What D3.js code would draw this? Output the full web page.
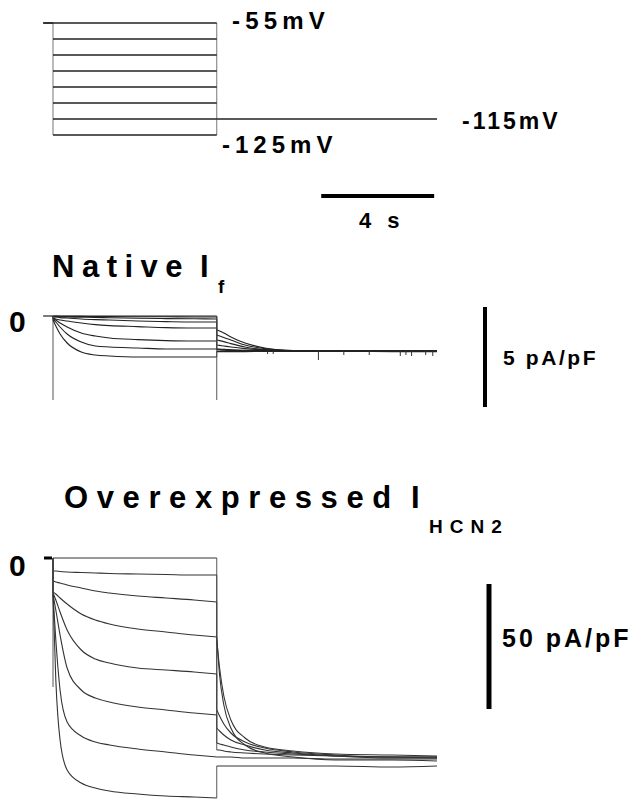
<!DOCTYPE html>
<html><head><meta charset="utf-8">
<script src="https://cdn.jsdelivr.net/npm/d3@7"></script>
<style>
body{margin:0;background:#fff}
text{font-family:"Liberation Sans",Arial,Helvetica,sans-serif;font-weight:bold;fill:#000}
</style>
</head><body>
<svg id="c" width="639" height="800"></svg>
<script>
// ---------------- DATA ----------------
const stepVoltages = [-55, -65, -75, -85, -95, -105, -115, -125]; // mV
const holdVoltage = -55;
const tailVoltage = -115;
const stepStart = 0, stepEnd = 5.8, protoStart = -0.35, protoEnd = 13.6; // s
const stepTimes = [0, 0.1, 0.25, 0.5, 1, 1.5, 2, 3, 4, 5, 5.8];          // s
const tailTimes = [5.8, 5.9, 6.05, 6.3, 6.8, 7.5, 8.5, 10, 12, 13.6];     // s

// Native If (pA/pF), one row per step voltage
const nativeStep = [
  [0, 0, 0, 0, 0, 0, 0, 0, 0, 0, 0],
  [0, 0, -0.01, -0.02, -0.02, -0.03, -0.03, -0.04, -0.04, -0.05, -0.05],
  [-0.03, -0.03, -0.04, -0.05, -0.06, -0.07, -0.09, -0.11, -0.13, -0.14, -0.15],
  [-0.05, -0.05, -0.08, -0.1, -0.15, -0.18, -0.2, -0.25, -0.28, -0.3, -0.3],
  [-0.1, -0.15, -0.2, -0.25, -0.35, -0.43, -0.48, -0.53, -0.58, -0.6, -0.6],
  [-0.1, -0.2, -0.35, -0.55, -0.85, -1.0, -1.1, -1.18, -1.23, -1.25, -1.25],
  [-0.15, -0.3, -0.55, -0.9, -1.3, -1.5, -1.55, -1.6, -1.65, -1.65, -1.65],
  [-0.2, -0.5, -0.9, -1.35, -1.8, -1.95, -2.0, -2.05, -2.05, -2.05, -2.05]
];
const nativeTail = [
  [-0.7, -0.75, -0.85, -1.05, -1.35, -1.6, -1.73, -1.75, -1.75, -1.75],
  [-0.95, -1.0, -1.08, -1.2, -1.45, -1.63, -1.73, -1.75, -1.75, -1.75],
  [-1.2, -1.23, -1.28, -1.38, -1.55, -1.68, -1.74, -1.75, -1.75, -1.75],
  [-1.45, -1.47, -1.5, -1.55, -1.63, -1.7, -1.74, -1.75, -1.75, -1.75],
  [-1.65, -1.66, -1.67, -1.69, -1.72, -1.74, -1.75, -1.75, -1.75, -1.75],
  [-1.7, -1.7, -1.71, -1.72, -1.73, -1.74, -1.75, -1.75, -1.75, -1.75],
  [-1.65, -1.67, -1.69, -1.71, -1.73, -1.74, -1.75, -1.75, -1.76, -1.76],
  [-1.78, -1.78, -1.78, -1.78, -1.78, -1.77, -1.77, -1.77, -1.78, -1.78]
];
const nativeTransient = -4.2;
const nativeSpikeTimes = [7.6, 7.8, 9.4, 10.3, 11.2, 12.3, 12.5, 12.7, 13.2, 13.45];
const nativeSpikeDepth = [0.15, 0.15, 0.45, 0.2, 0.2, 0.25, 0.2, 0.25, 0.2, 0.25];

// Overexpressed IHCN2 (pA/pF)
const hcnStep = [
  [0, 0, 0, 0, 0, 0, 0, 0, 0, 0, 0],
  [-5.2, -5.2, -5.4, -5.6, -5.8, -6, -6.2, -6.4, -6.6, -6.8, -6.8],
  [-9.2, -9.6, -10, -10.8, -12, -13.2, -14, -15.2, -16, -16.8, -17.6],
  [-13.6, -14.4, -16, -18.4, -22.4, -24.8, -26.4, -28.4, -29.6, -30.8, -31.6],
  [-14, -16.8, -21.6, -28.8, -36.8, -40.4, -42, -44, -44.8, -45.6, -46.4],
  [-14.4, -20.8, -30.8, -44, -52.8, -56, -57.6, -59.6, -60.8, -62, -62.8],
  [-14.8, -32.8, -52.8, -65.6, -71.2, -73.6, -74.8, -76.4, -77.6, -78.8, -79.6],
  [-14.8, -48.8, -72.8, -84.8, -90, -92, -93.2, -94.4, -95.2, -95.6, -96]
];
const hcnTail = [
  [-31.6, -46.8, -58.8, -68, -74.8, -78, -79.6, -80.8, -80.8, -81.2],
  [-32.8, -44, -55.2, -64.8, -72, -75.6, -77.2, -78.4, -78.8, -79.2],
  [-60.8, -63.2, -66.4, -70, -73.6, -76, -77.6, -78.8, -79.6, -79.6],
  [-68, -69.2, -70.8, -72.8, -74.8, -76.8, -78, -79.2, -80, -80],
  [-74, -74.4, -74.8, -75.6, -76.8, -77.6, -78.4, -79.2, -79.6, -79.6],
  [-76.8, -76.8, -77.2, -77.6, -78, -78.4, -78.8, -79.2, -79.6, -80],
  [-79.6, -79.6, -79.6, -79.6, -80, -80, -80, -80.4, -80.4, -80.4],
  [-83.2, -83.2, -83.2, -83.2, -83.2, -83.2, -83.2, -83.2, -83.6, -83.2]
];
const hcnTransient = -51.6;

// scale bars
const timeBarStart = 9.5, timeBarLen = 4;      // s
const nativeBarTop = 0.45, nativeBarLen = 5;   // pA/pF
const hcnBarTop = -10.4, hcnBarLen = 50;       // pA/pF

// ---------------- DRAW ----------------
const svg = d3.select("#c");
svg.append("rect").attr("width",639).attr("height",800).attr("fill","#fff");

const x = d3.scaleLinear().domain([0, protoEnd]).range([53, 437]);
const yV = d3.scaleLinear().domain([-55, -125]).range([23, 135]);
const yN = d3.scaleLinear().domain([0, -5]).range([316, 416]);
const yH = d3.scaleLinear().domain([0, -50]).range([558, 683]);

const seg = (g, x1, y1, x2, y2, w, c) => g.append("line")
  .attr("x1",x1).attr("y1",y1).attr("x2",x2).attr("y2",y2)
  .attr("stroke",c||"#111").attr("stroke-width",w||1);

// voltage protocol
const gP = svg.append("g");
seg(gP, x(stepStart), yV(holdVoltage), x(stepStart), yV(d3.min(stepVoltages)), 1, "#777");
seg(gP, x(stepEnd), yV(holdVoltage), x(stepEnd), yV(d3.min(stepVoltages)), 1, "#777");
seg(gP, x(protoStart), yV(holdVoltage), x(stepStart), yV(holdVoltage), 1.7);
stepVoltages.forEach(v => seg(gP, x(stepStart), yV(v), x(stepEnd), yV(v), 1.7, "#222"));
seg(gP, x(stepEnd), yV(tailVoltage), x(protoEnd), yV(tailVoltage), 1.7, "#222");

const lbl = (t, px, py, size, ls, anchor) => svg.append("text").text(t)
  .attr("x",px).attr("y",py).attr("font-size",size)
  .attr("letter-spacing",ls||0).attr("text-anchor",anchor||"start");

lbl("-55mV", 232, 29, 24, 5.2);
lbl("-125mV", 222, 153, 24, 5);
lbl("-115mV", 462, 129, 23, 3);

// time scale bar
seg(svg, x(timeBarStart), 196, x(timeBarStart + timeBarLen), 196, 4, "#000");
lbl("4 s", 359, 228, 22, 5);

// current panels
const lineC = d3.line().x(d => x(d[0])).curve(d3.curveMonotoneX);

function panel(y, steps, tails, transient, color) {
  const g = svg.append("g").attr("fill","none");
  seg(g, x(stepStart), y(0), x(stepStart), y(transient), 0.9, "#444");
  steps.forEach((s, i) => {
    const pts = stepTimes.map((t, k) => [t, s[k]]);
    const tl = tailTimes.map((t, k) => [t, tails[i][k]]);
    seg(g, x(stepStart), y(0), x(stepStart), y(s[0]), 0.9, "#444");
    g.append("path").datum(pts).attr("d", lineC.y(d => y(d[1])))
      .attr("stroke", color).attr("stroke-width", 1.1).attr("fill","none");
    seg(g, x(stepEnd), y(s[s.length-1]), x(stepEnd), y(tails[i][0]), 0.9, "#444");
    g.append("path").datum(tl).attr("d", lineC.y(d => y(d[1])))
      .attr("stroke", color).attr("stroke-width", 1.1).attr("fill","none");
  });
  return g;
}

// Native If
lbl("Native", 52, 277, 31, 7.5);
lbl("I", 200, 277, 31, 0);
lbl("f", 218, 293, 19, 0);
lbl("0", 9, 332, 30, 0);
const gN = panel(yN, nativeStep, nativeTail, nativeTransient, "#222");
seg(gN, x(protoStart), yN(0), x(stepStart), yN(0), 1.2, "#222");
seg(gN, x(stepEnd), yN(0), x(stepEnd), yN(nativeTransient), 0.9, "#444");
nativeSpikeTimes.forEach((t, i) => seg(gN, x(t), yN(-1.75), x(t), yN(-1.75 - nativeSpikeDepth[i]), 1, "#333"));
seg(svg, 485, yN(nativeBarTop), 485, yN(nativeBarTop - nativeBarLen), 4, "#000");
lbl("5 pA/pF", 503, 365, 21, 2.6);

// Overexpressed IHCN2
lbl("Overexpressed", 64, 508, 31, 8.6);
lbl("I", 411, 508, 31, 0);
lbl("HCN2", 429, 533, 19, 7);
lbl("0", 9, 576, 30, 0);
const gH = panel(yH, hcnStep, hcnTail, hcnTransient, "#333");
seg(gH, 44, yH(0), 52, yH(0), 3, "#000");
seg(svg, 489, yH(hcnBarTop), 489, yH(hcnBarTop - hcnBarLen), 5, "#000");
lbl("50 pA/pF", 502, 647, 25, 3);
</script>
</body></html>
